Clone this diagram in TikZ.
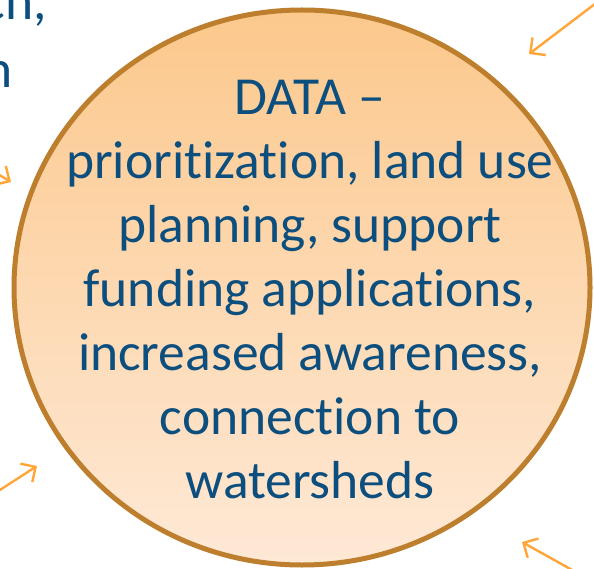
\documentclass[tikz,border=0pt]{standalone}
\usepackage{fontspec}
\setmainfont{Carlito}[Ligatures=NoCommon]
\usetikzlibrary{shapes.geometric,arrows.meta}
\definecolor{txtblue}{RGB}{12,78,125}
\definecolor{rimbrown}{RGB}{189,127,46}
\definecolor{filltop}{RGB}{252,200,140}
\definecolor{fillbot}{RGB}{254,233,214}
\definecolor{arrowor}{RGB}{255,165,58}
\tikzset{
  bigtext/.style={text=txtblue, font=\fontsize{53.5}{64}\selectfont, inner sep=0pt},
  ptr/.style={draw=arrowor, line width=2.4pt, -{Straight Barb[length=11pt,width=22pt,line width=2.4pt]}},
  bubble/.style={ellipse, draw=rimbrown, line width=5pt, top color=filltop, bottom color=fillbot, inner sep=0pt}
}
\begin{document}
\begin{tikzpicture}[x=1pt,y=-1pt]
\useasboundingbox (0,0) rectangle (594,569);
\clip (0,0) rectangle (594,569);
\fill[white] (0,0) rectangle (594,569);
% partial neighbouring text
\node[bigtext, anchor=base east] (t1) at (47,20) {ch,};
\node[bigtext, anchor=base east] (t2) at (13,88) {n};
% main bubble
\node[bubble, minimum width=576pt, minimum height=555pt] (circ) at (302,287.5) {};
\node[bigtext, align=center] (txt) at (310,290) {DATA –\\prioritization, land use\\planning, support\\funding applications,\\increased awareness,\\connection to\\watersheds};
% arrows pointing in
\coordinate (a1s) at (612,-9);
\coordinate (a1e) at (529,54);
\coordinate (a2s) at (-22,162);
\coordinate (a2e) at (11,182);
\coordinate (a3s) at (-14,499);
\coordinate (a3e) at (37,466);
\coordinate (a4s) at (590,580);
\coordinate (a4e) at (522,542);
\draw[ptr] (a1s) -- (a1e);
\draw[ptr] (a2s) -- (a2e);
\draw[ptr] (a3s) -- (a3e);
\draw[ptr] (a4s) -- (a4e);
\end{tikzpicture}
\end{document}
